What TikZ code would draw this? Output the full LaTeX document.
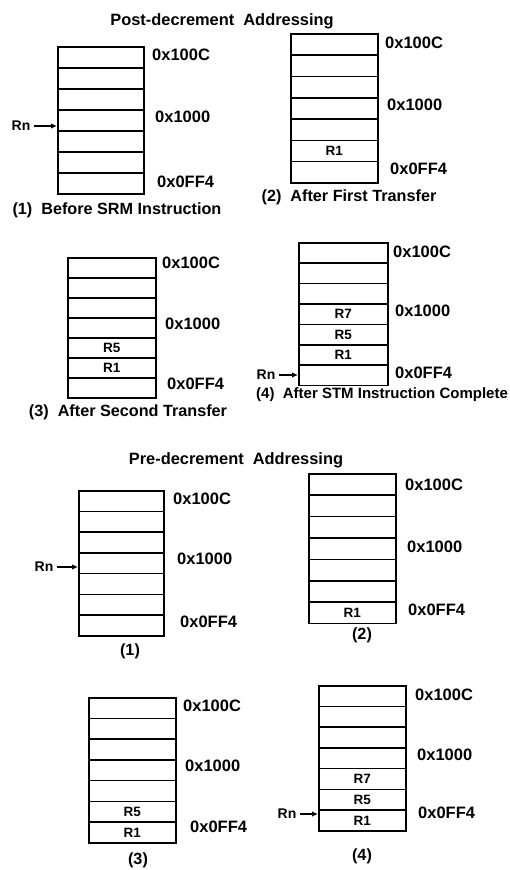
\documentclass[tikz,border=0pt]{standalone}
\usepackage{fontspec}
\setmainfont{Liberation Sans}
\usetikzlibrary{arrows.meta}
\tikzset{
  cell/.style={draw, line width=1.6pt, inner sep=0pt, anchor=north west},
  addr/.style={anchor=west, font=\fontsize{16.5}{16.5}\selectfont\bfseries, inner sep=0pt},
  capt/.style={font=\fontsize{16.2}{16.5}\selectfont\bfseries, inner sep=0pt},
  ttl/.style={font=\fontsize{16.4}{16.5}\selectfont\bfseries, inner sep=0pt},
  reg/.style={font=\fontsize{13.5}{14}\selectfont\bfseries, inner sep=0pt},
  rnlab/.style={font=\fontsize{14}{14}\selectfont\bfseries, inner sep=0pt},
  ptr/.style={line width=1.2pt, -{Latex[length=6pt,width=5.5pt]}},
}
\newcommand\memstack[5]{%
  \foreach \i in {1,...,7}{%
    \node[cell, minimum width=#4pt, minimum height=#5pt] (#1\i) at (#2,{#3+(\i-1)*#5}) {};
  }%
}
\begin{document}
\begin{tikzpicture}[x=1pt,y=-1pt]
\useasboundingbox[fill=white] (0,0) rectangle (510,870);

% ---------- Post-decrement ----------
\node[ttl] (t1) at (222,21) {Post-decrement\ \ Addressing};

% (1)
\memstack{a}{57}{46}{86}{21}
\node[addr] (a100c) at (152,55) {0x100C};
\node[addr] (a1000) at (155,117) {0x1000};
\node[addr] (a0ff4) at (157,182) {0x0FF4};
\node[rnlab] (rnA) at (21,126) {Rn};
\draw[ptr] ([xshift=3pt]rnA.east) -- (rnA -| a1.west);
\node[capt] (capA) at (117,210) {(1)\ \ Before SRM Instruction};

% (2)
\memstack{b}{290}{33}{87}{21.3}
\node[reg] (rb6) at (b6) {R1};
\node[addr] (b100c) at (385,43) {0x100C};
\node[addr] (b1000) at (387,105) {0x1000};
\node[addr] (b0ff4) at (390,169) {0x0FF4};
\node[capt] (capB) at (349,197) {(2)\ \ After First Transfer};

% (3)
\memstack{c}{67}{257}{88}{20}
\node[reg] (rc5) at (c5) {R5};
\node[reg] (rc6) at (c6) {R1};
\node[addr] (c100c) at (162,263) {0x100C};
\node[addr] (c1000) at (165,324) {0x1000};
\node[addr] (c0ff4) at (167,384) {0x0FF4};
\node[capt] (capC) at (128,412) {(3)\ \ After Second Transfer};

% (4)
\memstack{d}{298}{242}{89}{20.4}
\node[reg] (rd4) at (d4) {R7};
\node[reg] (rd5) at (d5) {R5};
\node[reg] (rd6) at (d6) {R1};
\node[addr] (d100c) at (393,252) {0x100C};
\node[addr] (d1000) at (395,311) {0x1000};
\node[addr] (d0ff4) at (395,373) {0x0FF4};
\node[rnlab] (rnD) at (266,375) {Rn};
\draw[ptr] ([xshift=3pt]rnD.east) -- (rnD -| d1.west);
\node[capt, anchor=west, font=\fontsize{15}{15}\selectfont\bfseries] (capD) at (256,395) {(4)\ \ After STM Instruction Complete};

% ---------- Pre-decrement ----------
\node[ttl] (t2) at (236,460) {Pre-decrement\ \ Addressing};

% (1)
\memstack{e}{78}{490}{85}{20.7}
\node[addr] (e100c) at (173,499) {0x100C};
\node[addr] (e1000) at (177,559) {0x1000};
\node[addr] (e0ff4) at (180,622) {0x0FF4};
\node[rnlab] (rnE) at (44,567) {Rn};
\draw[ptr] ([xshift=3pt]rnE.east) -- (rnE -| e1.west);
\node[capt] (capE) at (130,651) {(1)};

% (2)
\memstack{f}{308}{473}{87}{21.4}
\node[reg] (rf7) at (f7) {R1};
\node[addr] (f100c) at (405,485) {0x100C};
\node[addr] (f1000) at (407,547) {0x1000};
\node[addr] (f0ff4) at (408,610) {0x0FF4};
\node[capt] (capF) at (362,635) {(2)};

% (3)
\memstack{g}{88}{697}{87}{20.7}
\node[reg] (rg6) at (g6) {R5};
\node[reg] (rg7) at (g7) {R1};
\node[addr] (g100c) at (183,706) {0x100C};
\node[addr] (g1000) at (185,766) {0x1000};
\node[addr] (g0ff4) at (190,827) {0x0FF4};
\node[capt] (capG) at (138,860) {(3)};

% (4)
\memstack{h}{318}{685}{87}{20.7}
\node[reg] (rh5) at (h5) {R7};
\node[reg] (rh6) at (h6) {R5};
\node[reg] (rh7) at (h7) {R1};
\node[addr] (h100c) at (415,695) {0x100C};
\node[addr] (h1000) at (417,755) {0x1000};
\node[addr] (h0ff4) at (418,813) {0x0FF4};
\node[rnlab] (rnH) at (287,814) {Rn};
\draw[ptr] ([xshift=3pt]rnH.east) -- (rnH -| h1.west);
\node[capt] (capH) at (362,856) {(4)};
\end{tikzpicture}
\end{document}
